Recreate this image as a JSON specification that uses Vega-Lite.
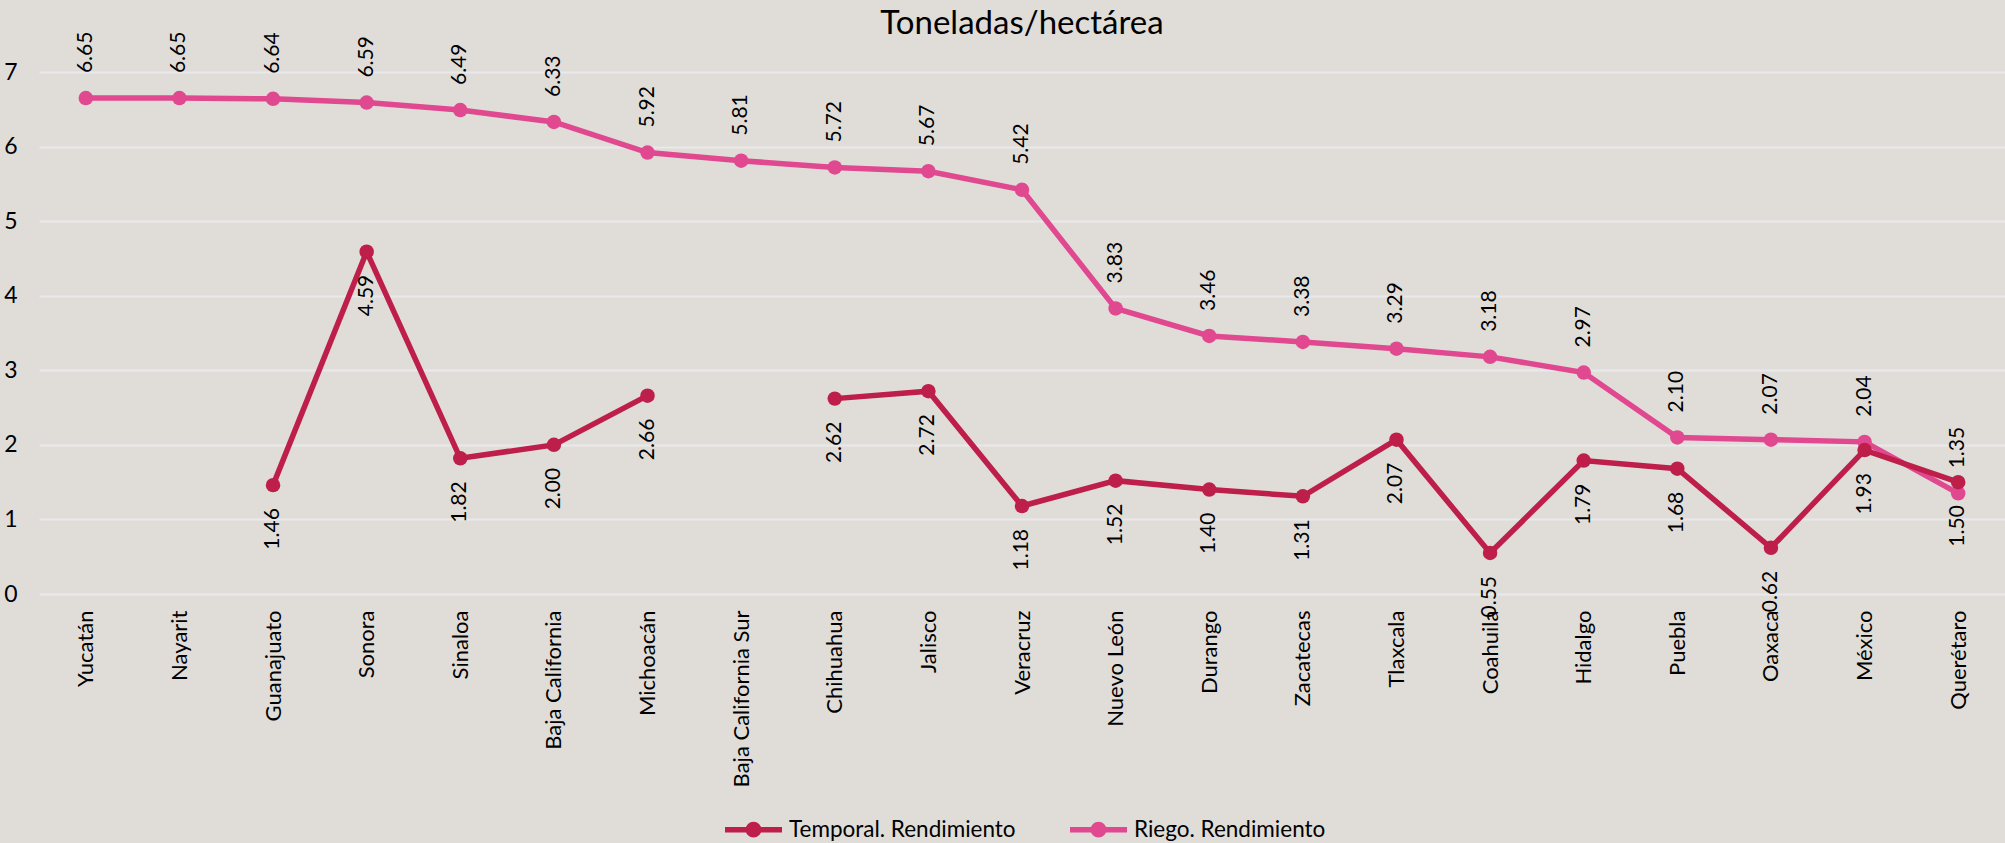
{
  "$schema": "https://vega.github.io/schema/vega-lite/v6.json",
  "width": 1966,
  "height": 522,
  "autosize": {"type": "none"},
  "padding": {"left": 39, "top": 72, "right": 0, "bottom": 249},
  "background": "#e0ddd8",
  "config": {"view": {"stroke": null}, "font": "Lato"},
  "title": {"text": "Toneladas/hectárea", "fontSize": 33, "font": "Lato", "fontWeight": "normal", "color": "#000000", "anchor": "middle", "offset": -9},
  "data": {"values": [
    {"estado": "Yucatán", "serie": "Riego. Rendimiento", "valor": 6.65},
    {"estado": "Nayarit", "serie": "Riego. Rendimiento", "valor": 6.65},
    {"estado": "Guanajuato", "serie": "Riego. Rendimiento", "valor": 6.64},
    {"estado": "Sonora", "serie": "Riego. Rendimiento", "valor": 6.59},
    {"estado": "Sinaloa", "serie": "Riego. Rendimiento", "valor": 6.49},
    {"estado": "Baja California", "serie": "Riego. Rendimiento", "valor": 6.33},
    {"estado": "Michoacán", "serie": "Riego. Rendimiento", "valor": 5.92},
    {"estado": "Baja California Sur", "serie": "Riego. Rendimiento", "valor": 5.81},
    {"estado": "Chihuahua", "serie": "Riego. Rendimiento", "valor": 5.72},
    {"estado": "Jalisco", "serie": "Riego. Rendimiento", "valor": 5.67},
    {"estado": "Veracruz", "serie": "Riego. Rendimiento", "valor": 5.42},
    {"estado": "Nuevo León", "serie": "Riego. Rendimiento", "valor": 3.83},
    {"estado": "Durango", "serie": "Riego. Rendimiento", "valor": 3.46},
    {"estado": "Zacatecas", "serie": "Riego. Rendimiento", "valor": 3.38},
    {"estado": "Tlaxcala", "serie": "Riego. Rendimiento", "valor": 3.29},
    {"estado": "Coahuila", "serie": "Riego. Rendimiento", "valor": 3.18},
    {"estado": "Hidalgo", "serie": "Riego. Rendimiento", "valor": 2.97},
    {"estado": "Puebla", "serie": "Riego. Rendimiento", "valor": 2.10},
    {"estado": "Oaxaca", "serie": "Riego. Rendimiento", "valor": 2.07},
    {"estado": "México", "serie": "Riego. Rendimiento", "valor": 2.04},
    {"estado": "Querétaro", "serie": "Riego. Rendimiento", "valor": 1.35},
    {"estado": "Yucatán", "serie": "Temporal. Rendimiento", "valor": null},
    {"estado": "Nayarit", "serie": "Temporal. Rendimiento", "valor": null},
    {"estado": "Guanajuato", "serie": "Temporal. Rendimiento", "valor": 1.46},
    {"estado": "Sonora", "serie": "Temporal. Rendimiento", "valor": 4.59},
    {"estado": "Sinaloa", "serie": "Temporal. Rendimiento", "valor": 1.82},
    {"estado": "Baja California", "serie": "Temporal. Rendimiento", "valor": 2.00},
    {"estado": "Michoacán", "serie": "Temporal. Rendimiento", "valor": 2.66},
    {"estado": "Baja California Sur", "serie": "Temporal. Rendimiento", "valor": null},
    {"estado": "Chihuahua", "serie": "Temporal. Rendimiento", "valor": 2.62},
    {"estado": "Jalisco", "serie": "Temporal. Rendimiento", "valor": 2.72},
    {"estado": "Veracruz", "serie": "Temporal. Rendimiento", "valor": 1.18},
    {"estado": "Nuevo León", "serie": "Temporal. Rendimiento", "valor": 1.52},
    {"estado": "Durango", "serie": "Temporal. Rendimiento", "valor": 1.40},
    {"estado": "Zacatecas", "serie": "Temporal. Rendimiento", "valor": 1.31},
    {"estado": "Tlaxcala", "serie": "Temporal. Rendimiento", "valor": 2.07},
    {"estado": "Coahuila", "serie": "Temporal. Rendimiento", "valor": 0.55},
    {"estado": "Hidalgo", "serie": "Temporal. Rendimiento", "valor": 1.79},
    {"estado": "Puebla", "serie": "Temporal. Rendimiento", "valor": 1.68},
    {"estado": "Oaxaca", "serie": "Temporal. Rendimiento", "valor": 0.62},
    {"estado": "México", "serie": "Temporal. Rendimiento", "valor": 1.93},
    {"estado": "Querétaro", "serie": "Temporal. Rendimiento", "valor": 1.50}
  ]},
  "encoding": {
    "x": {"field": "estado", "type": "nominal", "sort": null,
      "axis": {"title": null, "labelAngle": -90, "labelFontSize": 22, "labelFont": "Lato", "labelColor": "#000000", "labelPadding": 16, "ticks": false, "domain": false, "grid": false, "labelLimit": 400, "labelOverlap": false}},
    "y": {"field": "valor", "type": "quantitative", "scale": {"domain": [0, 7], "nice": false},
      "axis": {"title": null, "values": [0, 1, 2, 3, 4, 5, 6, 7], "grid": true, "gridColor": "#e9e8ec", "gridWidth": 2, "domain": false, "ticks": false, "labelFontSize": 23, "labelFont": "Lato", "labelColor": "#000000", "labelPadding": 22}},
    "color": {"field": "serie", "type": "nominal", "sort": null,
      "scale": {"domain": ["Temporal. Rendimiento", "Riego. Rendimiento"], "range": ["#be1e4a", "#e0488f"]},
      "legend": {"title": null, "orient": "none", "legendX": 683, "legendY": 726, "direction": "horizontal", "labelFontSize": 22.5, "labelFont": "Lato", "labelColor": "#000000", "labelLimit": 400, "symbolType": "M-1,0H1M0.18,0A0.18,0.18,0,1,1,-0.18,0A0.18,0.18,0,1,1,0.18,0", "symbolSize": 3249, "symbolStrokeWidth": 5.5, "columnPadding": 43, "labelOffset": 4}}
  },
  "layer": [
    {"mark": {"type": "line", "strokeWidth": 5.5, "invalid": "break-paths-show-domains"}},
    {"mark": {"type": "point", "filled": true, "size": 210, "opacity": 1}},
    {"transform": [{"filter": "datum.serie === 'Riego. Rendimiento' && datum.valor != null"}],
      "mark": {"type": "text", "angle": 270, "align": "left", "baseline": "middle", "dx": 25, "fontSize": 21, "font": "Lato", "color": "#000000"},
      "encoding": {"text": {"field": "valor", "type": "quantitative", "format": ".2f"}, "color": {"value": "#000000"}}},
    {"transform": [{"filter": "datum.serie === 'Temporal. Rendimiento' && datum.valor != null"}],
      "mark": {"type": "text", "angle": 270, "align": "right", "baseline": "middle", "dx": -23, "fontSize": 21, "font": "Lato", "color": "#000000"},
      "encoding": {"text": {"field": "valor", "type": "quantitative", "format": ".2f"}, "color": {"value": "#000000"}}}
  ]
}
